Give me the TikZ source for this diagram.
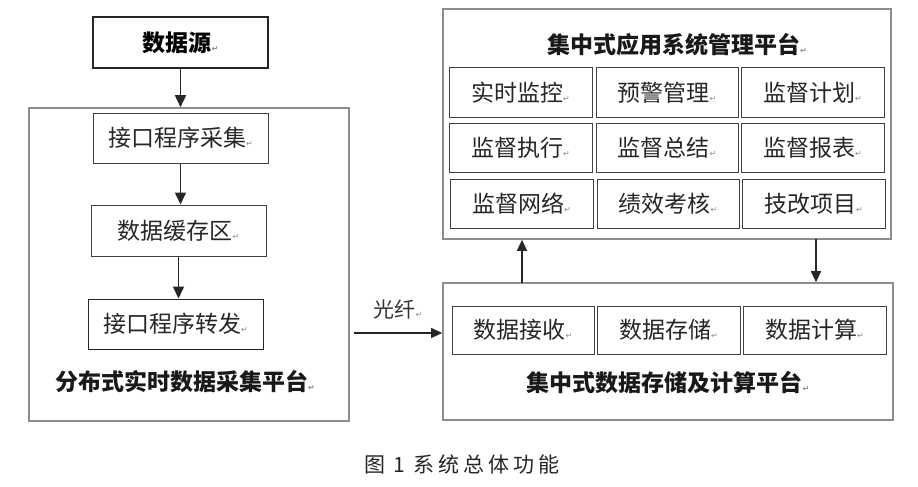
\documentclass[tikz,border=0pt]{standalone}
\usepackage{fontspec}
\setmainfont{Noto Sans CJK SC}
\newfontfamily\dejavu{DejaVu Sans}
\usetikzlibrary{arrows.meta}
\newcommand\pmark{{\dejavu\fontsize{8}{8}\selectfont\color{black!45}↵}}
\newcommand\gap{\hspace{4pt}}
\tikzset{
  cell/.style={draw=black!75, line width=1pt, inner sep=0pt, font=\fontsize{23}{24}\selectfont, text=black!85},
  outerbox/.style={draw=black!45, line width=1.6pt, inner sep=0pt},
  srcbox/.style={draw=black!85, line width=2.4pt, inner sep=0pt, font=\bfseries\fontsize{23}{24}\selectfont},
  arr/.style={-{Triangle[length=12pt,width=11pt]}, line width=1.6pt, draw=black!85},
  thinarr/.style={-{Triangle[length=11pt,width=10pt]}, line width=1.1pt, draw=black!85},
  ttl/.style={font=\bfseries\fontsize{23}{24}\selectfont, text=black!90, inner sep=0pt},
  lbl/.style={font=\fontsize{21}{21}\selectfont, text=black!80, inner sep=0pt}
}
\begin{document}
\begin{tikzpicture}[x=1pt,y=-1pt]
\useasboundingbox (0,0) rectangle (918,487);
% left column
\node[srcbox, minimum width=175pt, minimum height=51pt] (src) at (180.5,42.5) {数据源\pmark};
\node[outerbox, minimum width=320pt, minimum height=313pt] (left) at (189,264.5) {};
\node[cell, minimum width=175pt, minimum height=50pt] (c1) at (180.5,138) {接口程序采集\pmark};
\node[cell, minimum width=175pt, minimum height=51pt] (c2) at (178.5,230.5) {数据缓存区\pmark};
\node[cell, minimum width=175pt, minimum height=50pt, draw=black!85] (c3) at (175.5,324) {接口程序转发\pmark};
\node[ttl] (ltitle) at (185,382) {分布式实时数据采集平台\pmark};
\draw[arr] (src.south) -- (src.south |- left.north);
\draw[arr] (c1.south) -- (c1.south |- c2.north);
\draw[arr] (c2.south) -- (c2.south |- c3.north);
% top right
\node[outerbox, minimum width=448pt, minimum height=230pt] (top) at (667,124) {};
\node[ttl] (ttitle) at (677,45) {集中式应用系统管理平台\pmark};
\node[cell, minimum width=143pt, minimum height=49pt] (m11) at (520.5,92.5) {实时监控\pmark};
\node[cell, minimum width=142pt, minimum height=49pt] (m12) at (667,92.5) {预警管理\pmark};
\node[cell, minimum width=143pt, minimum height=49pt] (m13) at (812.5,92.5) {监督计划\pmark};
\node[cell, minimum width=143pt, minimum height=49pt] (m21) at (520.5,147.5) {监督执行\pmark};
\node[cell, minimum width=142pt, minimum height=49pt] (m22) at (667,147.5) {监督总结\pmark};
\node[cell, minimum width=143pt, minimum height=49pt] (m23) at (812.5,147.5) {监督报表\pmark};
\node[cell, minimum width=143pt, minimum height=49pt] (m31) at (521.5,203.5) {监督网络\pmark};
\node[cell, minimum width=142pt, minimum height=49pt] (m32) at (668,203.5) {绩效考核\pmark};
\node[cell, minimum width=143pt, minimum height=49pt] (m33) at (813.5,203.5) {技改项目\pmark};
% bottom right
\node[outerbox, minimum width=450pt, minimum height=137pt] (bot) at (668,351.5) {};
\node[cell, minimum width=142pt, minimum height=48pt] (d1) at (523,330) {数据接收\pmark};
\node[cell, minimum width=143pt, minimum height=48pt] (d2) at (668.5,330) {数据存储\pmark};
\node[cell, minimum width=143pt, minimum height=48pt] (d3) at (814.5,330) {数据计算\pmark};
\node[ttl] (btitle) at (668,383) {集中式数据存储及计算平台\pmark};
% connections
\coordinate (up) at (522,283);
\coordinate (down) at (816,239);
\draw[thinarr] (up) -- (up |- top.south);
\draw[thinarr] (down) -- (down |- bot.north);
\coordinate (fiber) at (354,333);
\draw[thinarr] (fiber) -- (fiber -| bot.west);
\node[lbl] (fl) at (398,310) {光纤\pmark};
% caption
\node[lbl, text=black!85] (cap) at (462,464) {图\gap\gap 1\gap\gap 系\gap 统\gap 总\gap 体\gap 功\gap 能};
\end{tikzpicture}
\end{document}
